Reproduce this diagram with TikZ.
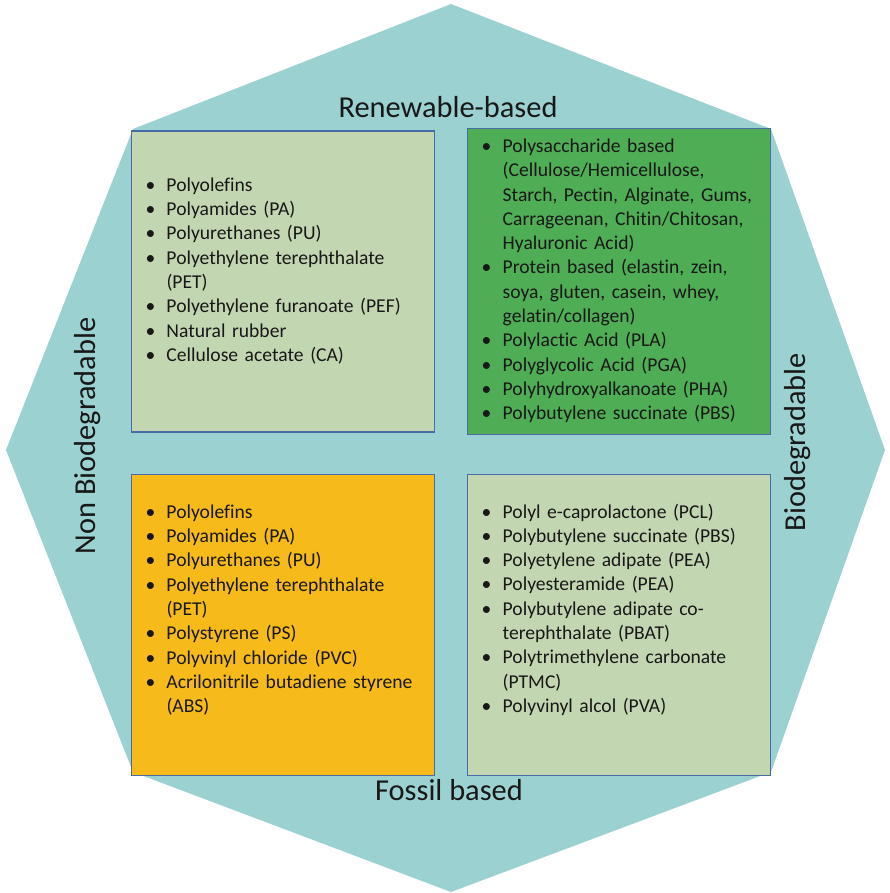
\documentclass[tikz,border=0pt]{standalone}
\usepackage{fontspec}
\setmainfont{Carlito}[Ligatures={NoCommon,NoRare}]
\usepackage{xcolor}
\usepackage{tikz}
\usetikzlibrary{positioning}
\definecolor{octcolor}{RGB}{155,209,208}
\definecolor{palegreen}{RGB}{195,214,178}
\definecolor{deepgreen}{RGB}{78,173,85}
\definecolor{amber}{RGB}{246,186,26}
\definecolor{edgeblue}{RGB}{72,108,165}
\definecolor{inkgray}{RGB}{24,24,24}

% one bulleted entry, wrapped lines hang under the text
\newcommand{\polyitem}[1]{\par\hangindent=21pt\hangafter=1\noindent\makebox[21pt][l]{\textbullet}#1}

\begin{document}
\begin{tikzpicture}[
  x=1pt, y=-1pt,
  font=\fontsize{19.6}{24.3}\selectfont,
  node distance=32pt,
  polybox/.style={draw=edgeblue, line width=1.2pt, text=inkgray, inner xsep=14pt, inner ysep=0pt,
    minimum width=303pt, minimum height=301pt, text width=275pt, align=left},
  sidelabel/.style={font=\fontsize{30.4}{32}\selectfont, text=inkgray, inner sep=0pt}
]
\useasboundingbox (0,0) rectangle (889,893);
\fill[octcolor] (451,4) -- (133,129) -- (6,450) -- (133,772) -- (451,892)
  -- (771,772) -- (885,450) -- (771,129) -- cycle;

\node[polybox, fill=palegreen] (renewnon) at (283,281.5) {
  \polyitem{Polyolefins}
  \polyitem{Polyamides (PA)}
  \polyitem{Polyurethanes (PU)}
  \polyitem{Polyethylene terephthalate\newline(PET)}
  \polyitem{Polyethylene furanoate (PEF)}
  \polyitem{Natural rubber}
  \polyitem{Cellulose acetate (CA)}
  \par\kern32pt
};
\node[polybox, fill=deepgreen, right=of renewnon] (renewbio) {
  \polyitem{Polysaccharide based\newline(Cellulose/Hemicellulose,\newline Starch, Pectin, Alginate, Gums,\newline Carrageenan, Chitin/Chitosan,\newline Hyaluronic Acid)}
  \polyitem{Protein based (elastin, zein,\newline soya, gluten, casein, whey,\newline gelatin/collagen)}
  \polyitem{Polylactic Acid (PLA)}
  \polyitem{Polyglycolic Acid (PGA)}
  \polyitem{Polyhydroxyalkanoate (PHA)}
  \polyitem{Polybutylene succinate (PBS)}
  \par\kern12pt
};
\node[polybox, fill=amber, below=41pt of renewnon] (fossilnon) {
  \polyitem{Polyolefins}
  \polyitem{Polyamides (PA)}
  \polyitem{Polyurethanes (PU)}
  \polyitem{Polyethylene terephthalate\newline(PET)}
  \polyitem{Polystyrene (PS)}
  \polyitem{Polyvinyl chloride (PVC)}
  \polyitem{Acrilonitrile butadiene styrene\newline(ABS)}
  \par\kern40pt
};
\node[polybox, fill=palegreen, right=of fossilnon] (fossilbio) {
  \polyitem{Polyl e-caprolactone (PCL)}
  \polyitem{Polybutylene succinate (PBS)}
  \polyitem{Polyetylene adipate (PEA)}
  \polyitem{Polyesteramide (PEA)}
  \polyitem{Polybutylene adipate co-\newline terephthalate (PBAT)}
  \polyitem{Polytrimethylene carbonate\newline(PTMC)}
  \polyitem{Polyvinyl alcol (PVA)}
  \par\kern40pt
};

% axis captions around the grid
\node[sidelabel, anchor=base] (renewable) at (448,118) {Renewable-based};
\node[sidelabel, anchor=base] (fossil) at (449,800) {Fossil based};
\node[sidelabel, anchor=base, rotate=90] (nonbio) at (95,436) {Non Biodegradable};
\node[sidelabel, anchor=base, rotate=90] (bio) at (805,442) {Biodegradable};
\end{tikzpicture}
\end{document}
